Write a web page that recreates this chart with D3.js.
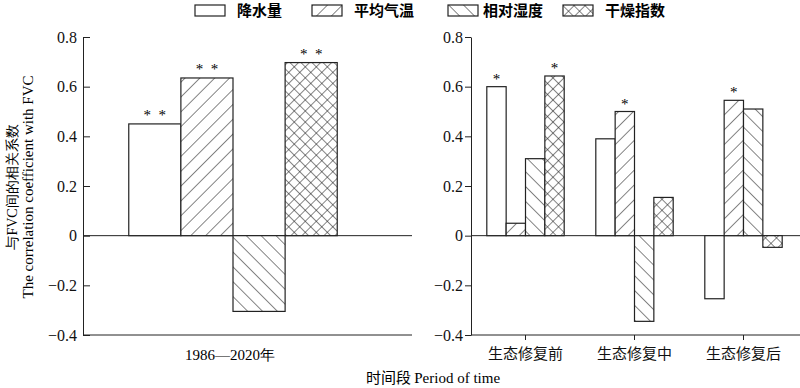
<!DOCTYPE html>
<html>
<head>
<meta charset="utf-8">
<script src="https://cdn.jsdelivr.net/npm/d3@7"></script>
<style>
  body { margin: 0; background: #fff; }
  svg { display: block; }
  .tick text { font-family: "Liberation Serif", "Times New Roman", serif; font-size: 16px; fill: #111; }
  .domain, .tick line { stroke: #222; }
</style>
</head>
<body>
<svg width="800" height="388"></svg>
<script>
// data
var series = ["降水量", "平均气温", "相对湿度", "干燥指数"];
var periodsL = ["1986—2020年"];
var valuesL = [[0.45, 0.635, -0.305, 0.697]];
var sigL = [["*\u2002*", "*\u2002*", "", "*\u2002*"]];
var periodsR = ["生态修复前", "生态修复中", "生态修复后"];
var valuesR = [
    [0.60, 0.05, 0.31, 0.643],
    [0.39, 0.50, -0.345, 0.154],
    [-0.254, 0.545, 0.51, -0.047]
];
var sigR = [["*", "", "", "*"], ["", "*", "", ""], ["", "*", "", ""]];
var yTicks = [-0.4, -0.2, 0, 0.2, 0.4, 0.6, 0.8];

var svg = d3.select("svg");
var cjk = "'Noto Sans CJK SC', sans-serif";
var serif = "'Liberation Serif', 'Times New Roman', serif";

// patterns
var defs = svg.append("defs");
function linePattern(id, size, angle, cross) {
    var p = defs.append("pattern")
        .attr("id", id)
        .attr("patternUnits", "userSpaceOnUse")
        .attr("width", size).attr("height", size)
        .attr("patternTransform", "rotate(" + angle + ")");
    p.append("rect").attr("width", size).attr("height", size).attr("fill", "#fff");
    p.append("line").attr("x1", 0).attr("y1", 0).attr("x2", 0).attr("y2", size)
        .attr("stroke", "#222").attr("stroke-width", 1.1);
    if (cross) {
        p.append("line").attr("x1", 0).attr("y1", 0).attr("x2", size).attr("y2", 0)
            .attr("stroke", "#222").attr("stroke-width", 1.1);
    }
}
linePattern("hatchF", 10.5, 45, false);
linePattern("hatchB", 10.5, -45, false);
linePattern("cross", 7.8, 45, true);
var fills = ["#fff", "url(#hatchF)", "url(#hatchB)", "url(#cross)"];

var y = d3.scaleLinear().domain([-0.4, 0.8]).range([335, 37]);
var fmt = function (d) { return d === 0 ? "0" : d3.format(".1f")(d); };

// ---------- left panel
var xL = d3.scaleBand().domain(periodsL).range([83, 383]).padding(0.18);
var subL = d3.scaleBand().domain(d3.range(series.length)).range([0, xL.bandwidth()]);

svg.append("line").attr("x1", 83).attr("x2", 412).attr("y1", y(0)).attr("y2", y(0)).attr("stroke", "#222");
svg.append("line").attr("x1", 83).attr("x2", 412).attr("y1", y(-0.4)).attr("y2", y(-0.4)).attr("stroke", "#222");
svg.append("g").attr("transform", "translate(83,0)")
    .call(d3.axisLeft(y).tickValues(yTicks).tickFormat(fmt).tickSizeInner(-7).tickSizeOuter(0).tickPadding(6));

var gL = svg.append("g").selectAll("g").data(valuesL).join("g")
    .attr("transform", function (d, i) { return "translate(" + xL(periodsL[i]) + ",0)"; });
gL.selectAll("rect").data(function (d) { return d; }).join("rect")
    .attr("x", function (d, i) { return subL(i); })
    .attr("y", function (d) { return y(Math.max(0, d)); })
    .attr("width", subL.bandwidth())
    .attr("height", function (d) { return Math.abs(y(d) - y(0)); })
    .attr("fill", function (d, i) { return fills[i]; })
    .attr("stroke", "#222").attr("stroke-width", 1.2);
gL.selectAll("text").data(function (d, gi) { return d.map(function (v, i) { return {v: v, s: sigL[gi][i]}; }); })
    .join("text")
    .attr("x", function (d, i) { return subL(i) + subL.bandwidth() / 2; })
    .attr("y", function (d) { return y(d.v) - 4; })
    .attr("text-anchor", "middle")
    .style("font-family", serif).style("font-size", "15px")
    .text(function (d) { return d.s; });

svg.append("text").attr("x", xL(periodsL[0]) + xL.bandwidth() / 2 - 3).attr("y", 360)
    .attr("text-anchor", "middle").style("font-family", serif).style("font-size", "15px")
    .text(periodsL[0]);

// ---------- right panel
var xR = d3.scaleBand().domain(periodsR).range([471, 798]).paddingInner(0.29).paddingOuter(0.145);
var subR = d3.scaleBand().domain(d3.range(series.length)).range([0, xR.bandwidth()]);

svg.append("line").attr("x1", 471).attr("x2", 800).attr("y1", y(0)).attr("y2", y(0)).attr("stroke", "#222");
svg.append("g").attr("transform", "translate(471,0)")
    .call(d3.axisLeft(y).tickValues(yTicks).tickFormat(fmt).tickSizeInner(6).tickSizeOuter(0).tickPadding(2));
var xAxR = svg.append("g").attr("transform", "translate(0," + y(-0.4) + ")")
    .call(d3.axisBottom(xR).tickSizeInner(5).tickSizeOuter(0).tickPadding(8));
xAxR.select(".domain").attr("d", "M471,0H800");
xAxR.selectAll(".tick text").style("font-family", cjk).style("font-size", "15px");

var gR = svg.append("g").selectAll("g").data(valuesR).join("g")
    .attr("transform", function (d, i) { return "translate(" + xR(periodsR[i]) + ",0)"; });
gR.selectAll("rect").data(function (d) { return d; }).join("rect")
    .attr("x", function (d, i) { return subR(i); })
    .attr("y", function (d) { return y(Math.max(0, d)); })
    .attr("width", subR.bandwidth())
    .attr("height", function (d) { return Math.abs(y(d) - y(0)); })
    .attr("fill", function (d, i) { return fills[i]; })
    .attr("stroke", "#222").attr("stroke-width", 1.2);
gR.selectAll("text").data(function (d, gi) { return d.map(function (v, i) { return {v: v, s: sigR[gi][i]}; }); })
    .join("text")
    .attr("x", function (d, i) { return subR(i) + subR.bandwidth() / 2; })
    .attr("y", function (d) { return y(Math.max(0, d.v)) - 3; })
    .attr("text-anchor", "middle")
    .style("font-family", serif).style("font-size", "15px")
    .text(function (d) { return d.s; });

// ---------- axis titles
var yt = svg.append("g").attr("transform", "translate(0,187) rotate(-90)");
yt.append("text").attr("x", 0).attr("y", 12).attr("dy", "0.35em").attr("text-anchor", "middle")
    .style("font-family", serif).style("font-size", "14px")
    .text("与FVC间的相关系数");
yt.append("text").attr("x", 0).attr("y", 28).attr("dy", "0.35em").attr("text-anchor", "middle")
    .style("font-family", serif).style("font-size", "15px")
    .text("The correlation coefficient with FVC");

var xt = svg.append("text").attr("x", 433).attr("y", 383).attr("text-anchor", "middle")
    .style("font-size", "15px");
xt.append("tspan").style("font-family", cjk).text("时间段 ");
xt.append("tspan").style("font-family", serif).text("Period of time");

// ---------- legend
var legendX = [195, 312, 448, 563];
var lg = svg.append("g").selectAll("g").data(series).join("g")
    .attr("transform", function (d, i) { return "translate(" + legendX[i] + ",5)"; });
lg.append("rect").attr("width", 30).attr("height", 11)
    .attr("fill", function (d, i) { return fills[i]; })
    .attr("stroke", "#222").attr("stroke-width", 1.2);
lg.append("text").attr("x", function (d, i) { return i === 2 ? 35 : 42; }).attr("y", 6).attr("dy", "0.36em")
    .style("font-family", cjk).style("font-size", "15px").style("font-weight", 600)
    .text(function (d) { return d; });
</script>
</body>
</html>
